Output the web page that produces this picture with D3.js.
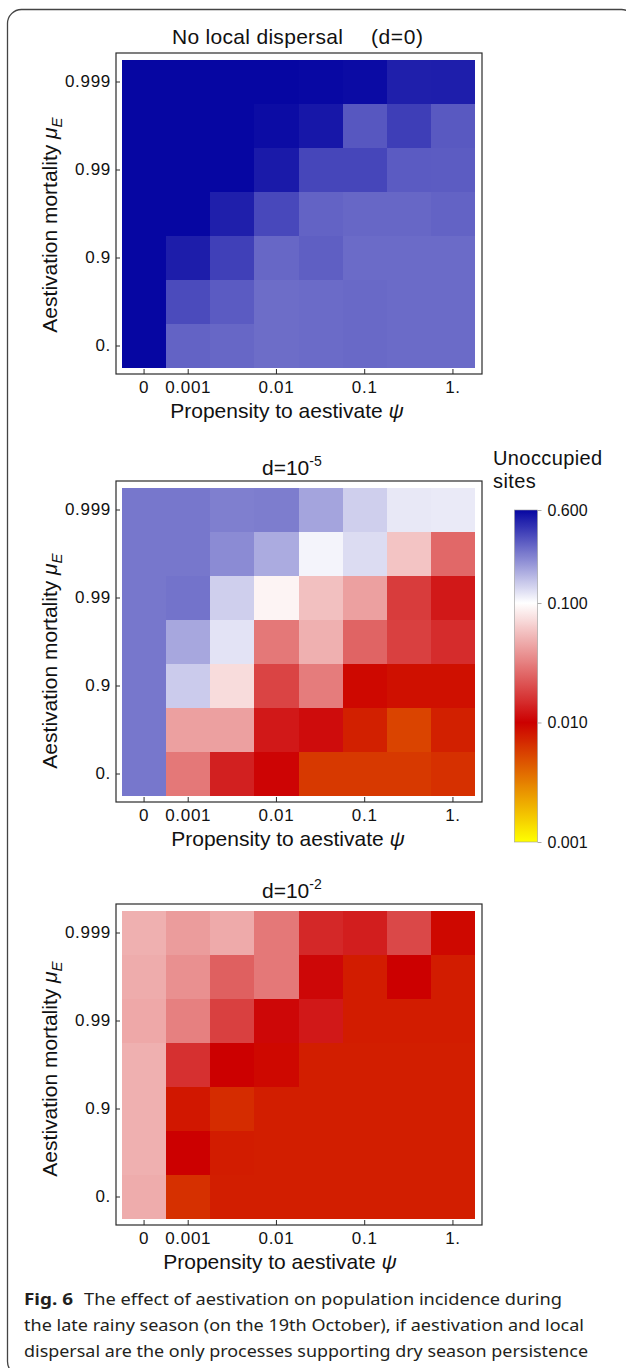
<!DOCTYPE html>
<html>
<head>
<meta charset="utf-8">
<script src="https://cdnjs.cloudflare.com/ajax/libs/d3/7.8.5/d3.min.js"></script>
<style>
body { margin: 0; background: #fff; }
svg { display: block; }
</style>
</head>
<body>
<svg id="fig" width="626" height="1368"></svg>
<script>
// grid: propensity to aestivate (columns) and aestivation mortality (rows, top to bottom)
var psi = [0, 0.001, 0.00316, 0.01, 0.0316, 0.1, 0.316, 1]
var mu = [0.999, 0.9968, 0.99, 0.968, 0.9, 0.684, 0]
var psiTicks = [0, 0.001, 0.01, 0.1, 1]
var psiTickLabels = ['0', '0.001', '0.01', '0.1', '1.']
var muTicks = [0.999, 0.99, 0.9, 0]
var muTickLabels = ['0.999', '0.99', '0.9', '0.']
var legendTicks = [0.001, 0.01, 0.1, 0.6]
var legendTickLabels = ['0.001', '0.010', '0.100', '0.600']

// fraction of unoccupied sites, d = 0
var noDispersal = [
  [0.60, 0.60, 0.60, 0.60, 0.59, 0.58, 0.50, 0.505],
  [0.60, 0.60, 0.60, 0.575, 0.53, 0.336, 0.40, 0.331],
  [0.60, 0.60, 0.60, 0.52, 0.378, 0.378, 0.326, 0.322],
  [0.60, 0.60, 0.50, 0.372, 0.308, 0.299, 0.299, 0.308],
  [0.60, 0.51, 0.394, 0.299, 0.317, 0.290, 0.290, 0.290],
  [0.60, 0.366, 0.326, 0.286, 0.290, 0.295, 0.290, 0.290],
  [0.60, 0.308, 0.299, 0.286, 0.290, 0.295, 0.290, 0.290]
]
// d = 1e-5
var dispersal5 = [
  [0.266, 0.266, 0.251, 0.255, 0.193, 0.141, 0.118, 0.116],
  [0.266, 0.266, 0.231, 0.183, 0.108, 0.129, 0.0587, 0.0256],
  [0.266, 0.274, 0.141, 0.0906, 0.0566, 0.0424, 0.0172, 0.0124],
  [0.266, 0.188, 0.122, 0.0296, 0.049, 0.0247, 0.0178, 0.0149],
  [0.266, 0.145, 0.073, 0.0185, 0.0306, 0.0093, 0.00865, 0.00865],
  [0.266, 0.0424, 0.0424, 0.0124, 0.0111, 0.0075, 0.0054, 0.0075],
  [0.266, 0.0296, 0.0133, 0.0104, 0.0060, 0.0060, 0.0060, 0.0065]
]
// d = 1e-2
var dispersal2 = [
  [0.049, 0.041, 0.0464, 0.0296, 0.0144, 0.0131, 0.0191, 0.0093],
  [0.0473, 0.0367, 0.0238, 0.0296, 0.0107, 0.0078, 0.0100, 0.0078],
  [0.0456, 0.0318, 0.0178, 0.0107, 0.0124, 0.0078, 0.0078, 0.0078],
  [0.049, 0.0154, 0.0100, 0.0093, 0.0076, 0.0076, 0.0076, 0.0076],
  [0.049, 0.0081, 0.0067, 0.0076, 0.0076, 0.0076, 0.0076, 0.0076],
  [0.049, 0.0100, 0.0078, 0.0076, 0.0076, 0.0076, 0.0076, 0.0076],
  [0.0473, 0.0065, 0.0076, 0.0076, 0.0076, 0.0076, 0.0076, 0.0076]
]

var font = '"Liberation Sans", Arial, sans-serif'
var svg = d3.select('#fig')

var color = d3.scaleLog()
  .domain([0.001, 0.01, 0.1, 0.6])
  .range(['#ffff00', '#cc0000', '#ffffff', '#0606a2'])
  .clamp(true)

// outer figure border
svg.append('rect')
  .attr('x', 7.5).attr('y', 9.5)
  .attr('width', 628).attr('height', 1366)
  .attr('rx', 14)
  .attr('fill', 'none').attr('stroke', '#444').attr('stroke-width', 1.3)

var panels = [
  { values: noDispersal, top: 53, ylab: 225, xlab: 287 },
  { values: dispersal5, top: 481, ylab: 661, xlab: 288, sup: '-5' },
  { values: dispersal2, top: 904, ylab: 1069, xlab: 280, sup: '-2' }
]

var x = d3.scaleBand().domain(psi).range([122, 475])

panels.forEach(function (p, k) {
  var T = p.top
  var y = d3.scaleBand().domain(mu).range([T + 7, T + 315])
  var g = svg.append('g')

  var cells = []
  p.values.forEach(function (row, i) {
    row.forEach(function (v, j) { cells.push({ mu: mu[i], psi: psi[j], v: v }) })
  })

  g.selectAll('rect.cell')
    .data(cells)
    .enter().append('rect')
    .attr('class', 'cell')
    .attr('x', function (d) { return x(d.psi) })
    .attr('y', function (d) { return y(d.mu) })
    .attr('width', x.bandwidth())
    .attr('height', y.bandwidth())
    .attr('fill', function (d) { return color(d.v) })
    .attr('shape-rendering', 'crispEdges')

  // frame
  g.append('rect')
    .attr('x', 116).attr('y', T)
    .attr('width', 366).attr('height', 321)
    .attr('fill', 'none').attr('stroke', '#2a2a2a').attr('stroke-width', 1.2)

  var xAxis = g.append('g')
    .attr('transform', 'translate(0,' + (T + 321) + ')')
    .call(d3.axisBottom(x)
      .tickValues(psiTicks)
      .tickSizeInner(-5).tickSizeOuter(0).tickPadding(7)
      .tickFormat(function (d) { return psiTickLabels[psiTicks.indexOf(d)] }))
  var yAxis = g.append('g')
    .attr('transform', 'translate(116,0)')
    .call(d3.axisLeft(y)
      .tickValues(muTicks)
      .tickSizeInner(-4).tickSizeOuter(0).tickPadding(5)
      .tickFormat(function (d) { return muTickLabels[muTicks.indexOf(d)] }))
  ;[xAxis, yAxis].forEach(function (a) {
    a.select('.domain').remove()
    a.selectAll('line').attr('stroke', '#2a2a2a')
    a.selectAll('text')
      .attr('font-family', font).attr('font-size', 17)
      .attr('letter-spacing', 0.7).attr('fill', '#111')
  })

  // titles
  if (k === 0) {
    g.append('text').attr('x', 172).attr('y', T - 9)
      .attr('font-family', font).attr('font-size', 21).attr('fill', '#111')
      .attr('letter-spacing', 0.3)
      .text('No local dispersal')
    g.append('text').attr('x', 371).attr('y', T - 9)
      .attr('font-family', font).attr('font-size', 21).attr('fill', '#111')
      .attr('letter-spacing', 0.6)
      .text('(d=0)')
  } else {
    var t = g.append('text').attr('x', 262).attr('y', T - 6)
      .attr('font-family', font).attr('font-size', 21).attr('fill', '#111')
    t.append('tspan').text('d=10')
    t.append('tspan').attr('dy', -9).attr('font-size', 14).text(p.sup)
  }

  // axis labels
  var xl = g.append('text').attr('x', p.xlab).attr('y', T + 365)
    .attr('text-anchor', 'middle')
    .attr('font-family', font).attr('font-size', 21).attr('fill', '#111')
  xl.append('tspan').text('Propensity to aestivate ')
  xl.append('tspan').attr('font-style', 'italic').text('\u03c8')

  var yl = g.append('text')
    .attr('transform', 'translate(57,' + p.ylab + ') rotate(-90)')
    .attr('text-anchor', 'middle')
    .attr('font-family', font).attr('font-size', 21).attr('fill', '#111')
  yl.append('tspan').text('Aestivation mortality ')
  yl.append('tspan').attr('font-style', 'italic').text('\u03bc')
  yl.append('tspan').attr('font-style', 'italic').attr('font-size', 15).attr('dy', 5).text('E')
})

// colour legend
var ly = d3.scaleLog().domain([0.001, 0.6]).range([842, 510])
var grad = svg.append('defs').append('linearGradient')
  .attr('id', 'cbar').attr('x1', 0).attr('y1', 1).attr('x2', 0).attr('y2', 0)
grad.selectAll('stop')
  .data(d3.range(0, 101))
  .enter().append('stop')
  .attr('offset', function (i) { return i + '%' })
  .attr('stop-color', function (i) { return color(ly.invert(842 - i * 3.32)) })

svg.append('rect')
  .attr('x', 514.5).attr('y', 510)
  .attr('width', 23).attr('height', 332)
  .attr('fill', 'url(#cbar)')
  .attr('stroke', '#999').attr('stroke-width', 0.6)

var lAxis = svg.append('g')
  .attr('transform', 'translate(537.5,0)')
  .call(d3.axisRight(ly)
    .tickValues(legendTicks)
    .tickSizeInner(4).tickSizeOuter(0).tickPadding(6)
    .tickFormat(function (d) { return legendTickLabels[legendTicks.indexOf(d)] }))
lAxis.select('.domain').remove()
lAxis.selectAll('line').attr('stroke', '#aaa')
lAxis.selectAll('text').attr('font-family', font).attr('font-size', 16).attr('fill', '#111')

svg.append('text').attr('x', 493).attr('y', 465)
  .attr('font-family', font).attr('font-size', 20).attr('letter-spacing', 0.4).attr('fill', '#111')
  .text('Unoccupied')
svg.append('text').attr('x', 493).attr('y', 488)
  .attr('font-family', font).attr('font-size', 20).attr('letter-spacing', 0.4).attr('fill', '#111')
  .text('sites')

// caption
var capFont = '"Noto Sans", "Open Sans", sans-serif'
var cap1 = svg.append('text').attr('x', 24).attr('y', 1305)
  .attr('font-family', capFont).attr('font-size', 16.5).attr('fill', '#231f20')
cap1.append('tspan').attr('font-weight', 'bold').attr('textLength', 49)
  .attr('lengthAdjust', 'spacingAndGlyphs').text('Fig. 6')
svg.append('text').attr('x', 84).attr('y', 1305)
  .attr('font-family', capFont).attr('font-size', 16.5).attr('fill', '#231f20')
  .attr('textLength', 478).attr('lengthAdjust', 'spacingAndGlyphs')
  .text('The effect of aestivation on population incidence during')
svg.append('text').attr('x', 24).attr('y', 1331)
  .attr('font-family', capFont).attr('font-size', 16.5).attr('fill', '#231f20')
  .attr('textLength', 560).attr('lengthAdjust', 'spacingAndGlyphs')
  .text('the late rainy season (on the 19th October), if aestivation and local')
svg.append('text').attr('x', 24).attr('y', 1357)
  .attr('font-family', capFont).attr('font-size', 16.5).attr('fill', '#231f20')
  .attr('textLength', 564).attr('lengthAdjust', 'spacingAndGlyphs')
  .text('dispersal are the only processes supporting dry season persistence')
</script>
</body>
</html>
